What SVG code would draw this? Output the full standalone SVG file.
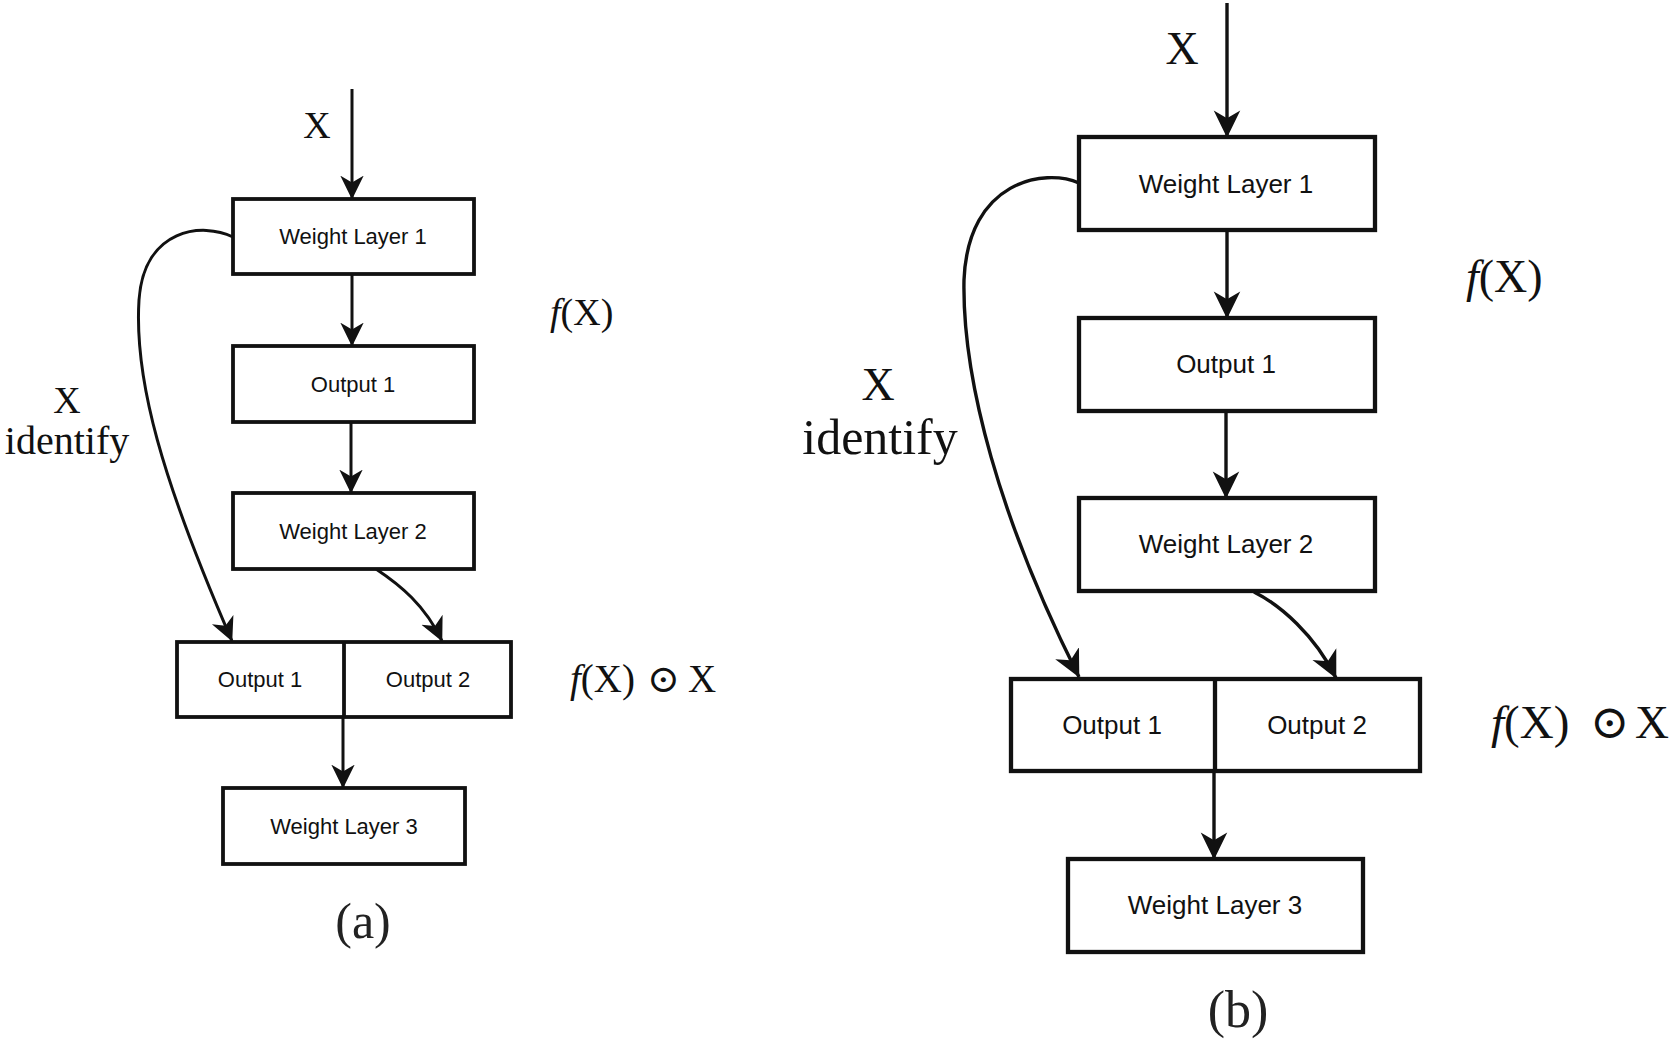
<svg xmlns="http://www.w3.org/2000/svg" width="1670" height="1041" viewBox="0 0 1670 1041">
<style>
.box{fill:#fff;stroke:#111;}
.ba{stroke-width:3.8;}
.bb{stroke-width:4.3;}
.lbl{font-family:"Liberation Sans",Arial,sans-serif;fill:#111;text-anchor:middle;}
.la{font-size:22px;}
.lb{font-size:26px;}
.math{font-family:"Liberation Serif","DejaVu Serif",serif;fill:#111;}
.cap{font-family:"Liberation Serif","DejaVu Serif",serif;fill:#222;text-anchor:middle;}
.con{fill:none;stroke:#111;}
.ca{stroke-width:3;}
.cb{stroke-width:3.4;}
</style>
<defs>
<marker id="ah" viewBox="0 -5 10 10" refX="7.8" refY="0" markerWidth="10" markerHeight="10" orient="auto">
<path d="M0,-3.9 L8,0 L0,3.9 L2.3,0 Z" fill="#111"/>
</marker>
</defs>
<rect width="1670" height="1041" fill="#fff"/>

<g id="connectors">
<!-- (a) -->
<path class="con ca" d="M352,89 L352,199" marker-end="url(#ah)"/>
<path class="con ca" d="M352,274 L352,346" marker-end="url(#ah)"/>
<path class="con ca" d="M351,422 L351,493" marker-end="url(#ah)"/>
<path class="con ca" d="M233,237 C203,222 144,228 139,300 C134,380 162,480 232,641" marker-end="url(#ah)"/>
<path class="con ca" d="M376,569 C400,585 425,605 442,641" marker-end="url(#ah)"/>
<path class="con ca" d="M343,717 L343,788" marker-end="url(#ah)"/>
<!-- (b) -->
<path class="con cb" d="M1227,3 L1227,137" marker-end="url(#ah)"/>
<path class="con cb" d="M1227,230 L1227,318" marker-end="url(#ah)"/>
<path class="con cb" d="M1226,411 L1226,498" marker-end="url(#ah)"/>
<path class="con cb" d="M1079,183 C1045,168 968,180 964,280 C962,380 1000,520 1079,677" marker-end="url(#ah)"/>
<path class="con cb" d="M1254,592 C1280,605 1315,635 1336,678" marker-end="url(#ah)"/>
<path class="con cb" d="M1214,771 L1214,859" marker-end="url(#ah)"/>
</g>

<!-- (a) nodes -->
<g id="a-wl1"><rect class="box ba" x="233" y="199" width="241" height="75"/><text class="lbl la" x="353" y="244">Weight Layer 1</text></g>
<g id="a-out1"><rect class="box ba" x="233" y="346" width="241" height="76"/><text class="lbl la" x="353" y="392">Output 1</text></g>
<g id="a-wl2"><rect class="box ba" x="233" y="493" width="241" height="76"/><text class="lbl la" x="353" y="539">Weight Layer 2</text></g>
<g id="a-concat">
<rect class="box ba" x="177" y="642" width="334" height="75"/>
<line x1="344" y1="642" x2="344" y2="717" stroke="#111" stroke-width="3.8"/>
<text class="lbl la" x="260" y="687">Output 1</text>
<text class="lbl la" x="428" y="687">Output 2</text>
</g>
<g id="a-wl3"><rect class="box ba" x="223" y="788" width="242" height="76"/><text class="lbl la" x="344" y="834">Weight Layer 3</text></g>

<!-- (a) labels -->
<g id="a-labels">
<text class="math" x="317" y="138" font-size="38" text-anchor="middle">X</text>
<text class="math" x="550" y="325" font-size="38"><tspan font-style="italic">f</tspan>(X)</text>
<text class="math" x="67" y="413" font-size="38" text-anchor="middle">X</text>
<text class="math" x="67" y="454" font-size="40" text-anchor="middle">identify</text>
<text class="math" y="692" font-size="39"><tspan x="570" font-style="italic">f</tspan>(X)<tspan x="647">⊙</tspan><tspan x="688">X</tspan></text>
<text class="cap" x="363" y="938" font-size="50">(a)</text>
</g>

<!-- (b) nodes -->
<g id="b-wl1"><rect class="box bb" x="1079" y="137" width="296" height="93"/><text class="lbl lb" x="1226" y="193">Weight Layer 1</text></g>
<g id="b-out1"><rect class="box bb" x="1079" y="318" width="296" height="93"/><text class="lbl lb" x="1226" y="373">Output 1</text></g>
<g id="b-wl2"><rect class="box bb" x="1079" y="498" width="296" height="93"/><text class="lbl lb" x="1226" y="553">Weight Layer 2</text></g>
<g id="b-concat">
<rect class="box bb" x="1011" y="679" width="409" height="92"/>
<line x1="1215" y1="679" x2="1215" y2="771" stroke="#111" stroke-width="4.3"/>
<text class="lbl lb" x="1112" y="734">Output 1</text>
<text class="lbl lb" x="1317" y="734">Output 2</text>
</g>
<g id="b-wl3"><rect class="box bb" x="1068" y="859" width="295" height="93"/><text class="lbl lb" x="1215" y="914">Weight Layer 3</text></g>

<!-- (b) labels -->
<g id="b-labels">
<text class="math" x="1182" y="64" font-size="46" text-anchor="middle">X</text>
<text class="math" x="1466" y="292" font-size="46"><tspan font-style="italic">f</tspan>(X)</text>
<text class="math" x="878" y="400" font-size="46" text-anchor="middle">X</text>
<text class="math" x="880" y="454" font-size="50" text-anchor="middle">identify</text>
<text class="math" y="738" font-size="47"><tspan x="1491" font-style="italic">f</tspan>(X)<tspan x="1590">⊙</tspan><tspan x="1635">X</tspan></text>
<text class="cap" x="1238" y="1027" font-size="52">(b)</text>
</g>
</svg>
